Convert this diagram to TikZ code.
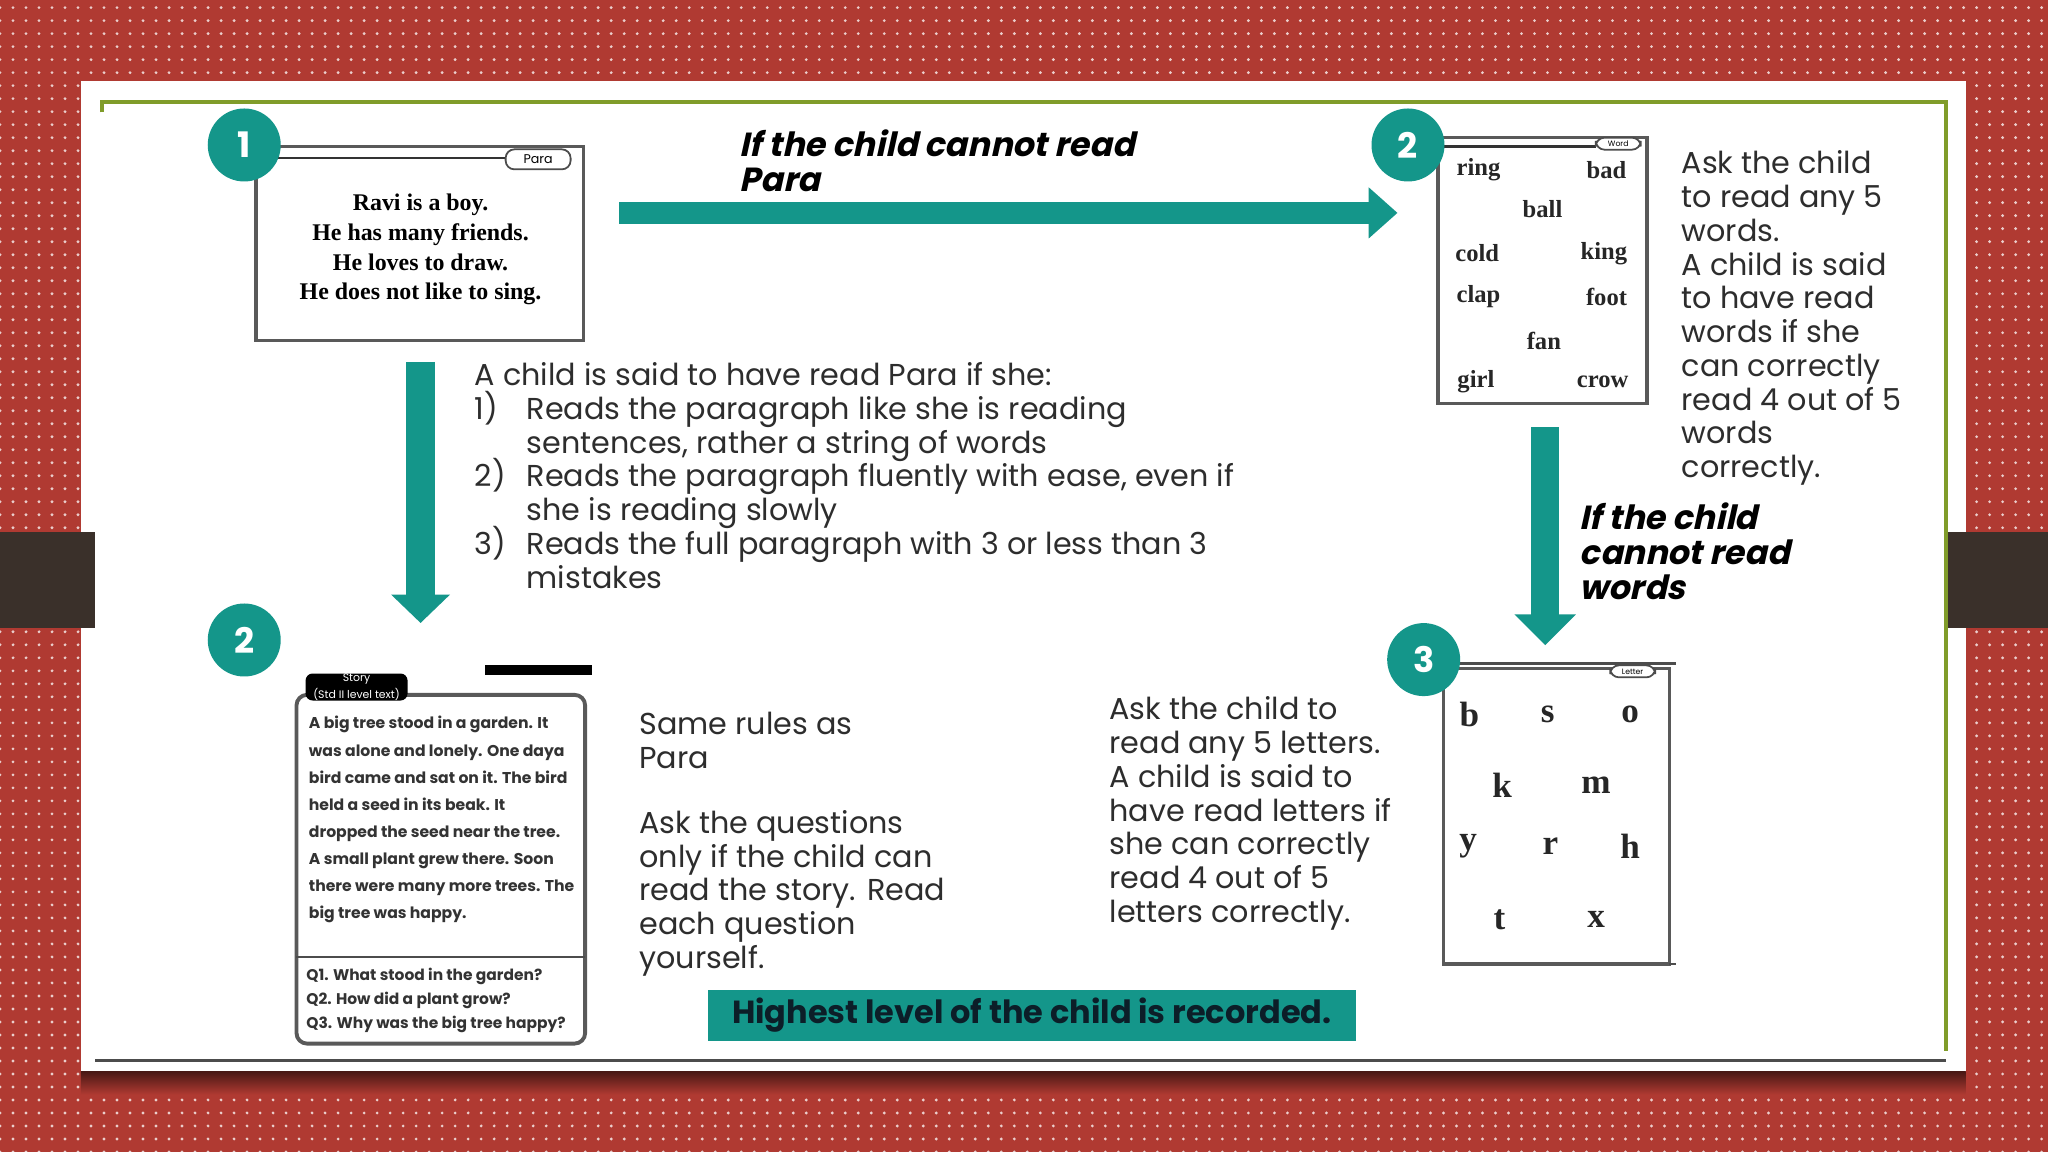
\documentclass[tikz,border=0pt]{standalone}
\usepackage{fontspec}
\setmainfont{Poppins}
\newfontfamily\serifbox{Liberation Serif}
\newfontfamily\slanthead[FakeSlant=0.22]{Poppins}
\usepackage{tikz}
\usetikzlibrary{positioning}
\usetikzlibrary{arrows.meta}
\usetikzlibrary{patterns.meta}

\definecolor{slidered}{RGB}{176,58,50}
\definecolor{bandbrown}{RGB}{58,48,42}
\definecolor{tealmain}{RGB}{20,150,138}
\definecolor{framegreen}{RGB}{128,156,42}
\definecolor{inkgray}{RGB}{45,45,45}
\definecolor{inknavy}{RGB}{12,30,40}

\tikzset{
  numdot/.style={circle, fill=tealmain, text=white, minimum size=0.73cm, inner sep=0pt,
    font=\fontsize{10}{12}\selectfont\bfseries},
  sheet/.style={draw=black!65, line width=0.9pt},
  tabbox/.style={draw=black!70, fill=white, rounded corners=2.5pt, line width=0.5pt,
    minimum width=0.65cm, minimum height=0.2cm, inner sep=0pt, font=\fontsize{3.6}{4}\selectfont},
  paratxt/.style={align=center, inner sep=0pt, font=\serifbox\bfseries\fontsize{6.8}{8.5}\selectfont},
  wordtxt/.style={inner sep=0pt, text=black!85, font=\serifbox\bfseries\fontsize{7}{8}\selectfont},
  lettxt/.style={inner sep=0pt, text=black!85, font=\serifbox\bfseries\fontsize{10}{12}\selectfont},
  storytxt/.style={align=left, inner sep=0pt, anchor=north west, text=black!80,
    font=\bfseries\fontsize{4.45}{7.7}\selectfont},
  bodytxt/.style={align=left, inner sep=0pt, anchor=north west, text=inkgray,
    font=\fontsize{8.6}{9.6}\selectfont},
  headtxt/.style={align=left, inner sep=0pt, anchor=north west, text=black,
    font=\slanthead\bfseries\fontsize{9.5}{10}\selectfont},
  flowarrow/.style={draw=tealmain, line width=6.4pt}
}

\begin{document}
\begin{tikzpicture}[x=0.013061cm, y=-0.013061cm]
  \useasboundingbox (0,0) rectangle (1568,882);

  % slide background
  \fill[slidered] (0,0) rectangle (1568,882);
  \fill[pattern={Dots[distance=3.7pt, radius=0.45pt]}, pattern color=white!75!slidered]
    (0,0) rectangle (1568,882);
  \shade[top color=black!60!slidered, bottom color=slidered] (62,820) rectangle (1505,838);
  \fill[white] (62,62) rectangle (1505,820);
  \fill[bandbrown] (0,407) rectangle (73,481);
  \fill[bandbrown] (1489,407) rectangle (1568,481);

  % frame lines
  \draw[framegreen, line width=1pt] (78,86) -- (78,78) -- (1490,78) -- (1490,805);
  \draw[black!70, line width=1pt] (73,812) -- (1490,812);

  % Para card
  \draw[sheet] (196,112) rectangle (447,261);
  \draw[black!80, line width=0.8pt] (200,121) -- (390,121);
  \node[tabbox] (paratab) at (412,122) {Para};
  \node[paratxt] (paratext) at (322,191) {Ravi is a boy.\\He has many friends.\\He loves to draw.\\He does not like to sing.};

  % Word card
  \draw[sheet] (1101,105) rectangle (1261,309);
  \draw[black!80, line width=0.8pt] (1105,112) -- (1222,112);
  \node[tabbox, minimum width=0.45cm, minimum height=0.12cm, font=\fontsize{2.2}{2.5}\selectfont] (wordtab) at (1239,110) {Word};
  \foreach \w/\x/\y in {ring/1132/130, bad/1230/130, ball/1181/160, cold/1131/194, king/1228/194,
                        clap/1132/227, foot/1230/227, fan/1182/261, girl/1130/292, crow/1227/292}
    \node[wordtxt] (w\w) at (\x,\y) {\w};

  % Letter card
  \draw[sheet] (1105,512) rectangle (1278,738);
  \draw[black!70, line width=0.8pt] (1105,508) -- (1283,508);
  \draw[black!70, line width=0.8pt] (1278,738) -- (1283,738);
  \node[tabbox, minimum width=0.45cm, minimum height=0.12cm, font=\fontsize{2.2}{2.5}\selectfont] (lettab) at (1250,514) {Letter};
  \foreach \l/\x/\y in {b/1125/547, s/1185/547, o/1248/547, k/1150/601, m/1222/601,
                        y/1124/648, r/1187/648, h/1248/648, t/1148/704, x/1222/704}
    \node[lettxt] (l\l) at (\x,\y) {\l};

  % Story card
  \draw[sheet, rounded corners=3pt, line width=1.1pt] (227,532) rectangle (448,799);
  \draw[black!70, line width=0.6pt] (227,733) -- (448,733);
  \fill[black] (371,509) rectangle (453,517);
  \node[fill=black, text=white, rounded corners=2pt, minimum width=1.02cm, minimum height=0.27cm,
        inner sep=0pt, align=center, font=\fontsize{3.1}{3.4}\selectfont] (storytab) at (273,526)
        {Story\\(Std II level text)};
  \node[storytxt] (storytext) at (236,548) {A big tree stood in a garden. It\\
    was alone and lonely. One daya\\
    bird came and sat on it. The bird\\
    held a seed in its beak. It\\
    dropped the seed near the tree.\\
    A small plant grew there. Soon\\
    there were many more trees. The\\
    big tree was happy.};
  \node[storytxt, font=\bfseries\fontsize{4.4}{6.7}\selectfont] (questions) at (234,741)
    {Q1. What stood in the garden?\\Q2. How did a plant grow?\\Q3. Why was the big tree happy?};

  % step numbers
  \node[numdot] (step1) at (187,111) {1};
  \node[numdot] (step2w) at (1078,111) {2};
  \node[numdot] (step2s) at (187,490) {2};
  \node[numdot] (step3) at (1090,505) {3};

  % connectors
  \coordinate (paraout) at (474,163);
  \coordinate (wordsin) at (1070,163);
  \coordinate (paradown) at (322,277);
  \coordinate (storyin) at (322,477);
  \coordinate (wordsdown) at (1183,327);
  \coordinate (lettersin) at (1183,494);
  \draw[flowarrow, line width=6.3pt, -{Triangle[width=14pt,length=8.2pt]}] (paraout) -- (wordsin);
  \draw[flowarrow, line width=8.1pt, -{Triangle[width=16.3pt,length=8.1pt]}] (paradown) -- (storyin);
  \draw[flowarrow, line width=7.8pt, -{Triangle[width=17pt,length=8.8pt]}] (wordsdown) -- (lettersin);

  % texts
  \node[headtxt] (ifpara) at (566,99) {If the child cannot read\\Para};
  \node[headtxt] (ifwords) at (1209,384) {If the child\\cannot read\\words};

  \node[bodytxt] (paracrit) at (363,277) {A child is said to have read Para if she:\\
    \makebox[14.8pt][l]{\smash{1)}}Reads the paragraph like she is reading\\
    \hspace*{14.8pt}sentences, rather a string of words\\
    \makebox[14.8pt][l]{\smash{2)}}Reads the paragraph fluently with ease, even if\\
    \hspace*{14.8pt}she is reading slowly\\
    \makebox[14.8pt][l]{\smash{3)}}Reads the full paragraph with 3 or less than 3\\
    \hspace*{14.8pt}mistakes};

  \node[bodytxt] (wordcrit) at (1287,115) {Ask the child\\to read any 5\\words.\\A child is said\\to have read\\words if she\\can correctly\\read 4 out of 5\\words\\correctly.};

  \node[bodytxt] (samerules) at (489,545) {Same rules as\\Para};
  \node[bodytxt] (askq) at (489,620) {Ask the questions\\only if the child can\\read the story. Read\\each question\\yourself.};

  \node[bodytxt] (lettercrit) at (849,533) {Ask the child to\\read any 5 letters.\\A child is said to\\have read letters if\\she can correctly\\read 4 out of 5\\letters correctly.};

  \node[fill=tealmain, minimum width=6.478cm, minimum height=0.509cm, inner sep=0pt,
        text=inknavy, font=\bfseries\fontsize{9.1}{10}\selectfont] (recorded) at (790,777.5)
        {Highest level of the child is recorded.};
\end{tikzpicture}
\end{document}
